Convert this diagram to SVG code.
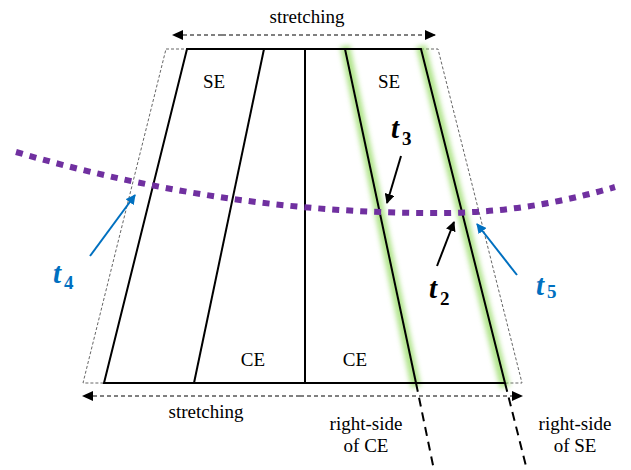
<svg xmlns="http://www.w3.org/2000/svg" width="631" height="470" viewBox="0 0 631 470">
<style>
.lbl{font-family:"Liberation Serif","Times New Roman",serif;font-size:19px;fill:#000;text-anchor:middle}
.tv{font-family:"Liberation Serif","Times New Roman",serif;font-weight:bold;font-style:italic;font-size:29px}
.sub{font-family:"Liberation Serif","Times New Roman",serif;font-weight:bold;font-size:19px}
.edge{stroke:#000;stroke-width:2;fill:none}
.glow{stroke:#8fd95a;stroke-width:10;fill:none;opacity:0.7;filter:url(#blur)}
.outline{stroke:#666;stroke-width:1;stroke-dasharray:3 2;fill:none}
.stretch{stroke:#000;stroke-width:1;stroke-dasharray:4 3;fill:none}
.ext{stroke:#000;stroke-width:2;stroke-dasharray:9 6;fill:none}
.blue{stroke:#0070c0;stroke-width:2;fill:none}
.black{stroke:#000;stroke-width:2;fill:none}
</style>
<defs>
<filter id="blur" x="-50%" y="-10%" width="200%" height="120%"><feGaussianBlur stdDeviation="2.5"/></filter>
<marker id="ah" markerWidth="10" markerHeight="10" refX="9" refY="5" orient="auto" markerUnits="userSpaceOnUse"><path d="M0,0 L10,5 L0,10 Z" fill="#000"/></marker>
<marker id="ahs" markerWidth="12" markerHeight="10" refX="10" refY="5" orient="auto" markerUnits="userSpaceOnUse"><path d="M0,0 L11,5 L0,10 Z" fill="#000"/></marker>
<marker id="ahb" markerWidth="10" markerHeight="10" refX="9" refY="5" orient="auto" markerUnits="userSpaceOnUse"><path d="M0,0 L10,5 L0,10 Z" fill="#0070c0"/></marker>
</defs>
<rect width="631" height="470" fill="#fff"/>
<g id="outline">
<polygon class="outline" points="166,49 438,49 522,383 83,383"/>
</g>
<g id="glows">
<line class="glow" x1="345" y1="46" x2="416" y2="387"/>
<line class="glow" x1="421" y1="46" x2="505" y2="387"/>
</g>
<g id="trapezoid">
<polygon class="edge" points="187,49 421,49 505,383 104,383"/>
<line class="edge" x1="264" y1="49" x2="194" y2="383"/>
<line class="edge" x1="305" y1="49" x2="305" y2="383"/>
<line class="edge" x1="345" y1="49" x2="416" y2="383"/>
</g>
<g id="labels">
<text class="lbl" x="307" y="23">stretching</text>
<text class="lbl" x="214" y="88">SE</text>
<text class="lbl" x="389" y="88">SE</text>
<text class="lbl" x="253" y="366">CE</text>
<text class="lbl" x="355" y="366">CE</text>
<text class="lbl" x="206" y="418">stretching</text>
<text class="lbl" x="366" y="430">right-side</text>
<text class="lbl" x="366" y="452">of CE</text>
<text class="lbl" x="575" y="430">right-side</text>
<text class="lbl" x="575" y="452">of SE</text>
</g>
<g id="connectors">
<line class="stretch" x1="222" y1="35" x2="173" y2="35" marker-end="url(#ahs)"/>
<line class="stretch" x1="222" y1="35" x2="435" y2="35" marker-end="url(#ahs)"/>
<line class="stretch" x1="300" y1="396" x2="83" y2="396" marker-end="url(#ahs)"/>
<line class="stretch" x1="300" y1="396" x2="522" y2="396" marker-end="url(#ahs)"/>
<line class="ext" x1="416" y1="383" x2="434" y2="470"/>
<line class="ext" x1="505" y1="383" x2="527" y2="470"/>
<path d="M16,152 Q228,214 440,213 Q527,213 615,187" fill="none" stroke="#7030a0" stroke-width="6" stroke-dasharray="7 7"/>
<line class="black" x1="401" y1="156" x2="387" y2="203" marker-end="url(#ah)"/>
<line class="black" x1="437" y1="266" x2="454" y2="222" marker-end="url(#ah)"/>
<line class="blue" x1="90" y1="256" x2="135" y2="195" marker-end="url(#ahb)"/>
<line class="blue" x1="517" y1="275" x2="477" y2="224" marker-end="url(#ahb)"/>
</g>
<g id="times">
<text x="391" y="138"><tspan class="tv">t</tspan><tspan class="sub" dx="3" dy="7">3</tspan></text>
<text x="429" y="298"><tspan class="tv">t</tspan><tspan class="sub" dx="3" dy="7">2</tspan></text>
<text x="53" y="283" fill="#0070c0"><tspan class="tv" fill="#0070c0">t</tspan><tspan class="sub" fill="#0070c0" dx="3" dy="6">4</tspan></text>
<text x="536" y="295" fill="#0070c0"><tspan class="tv" fill="#0070c0">t</tspan><tspan class="sub" fill="#0070c0" dx="3" dy="3">5</tspan></text>
</g>
</svg>
